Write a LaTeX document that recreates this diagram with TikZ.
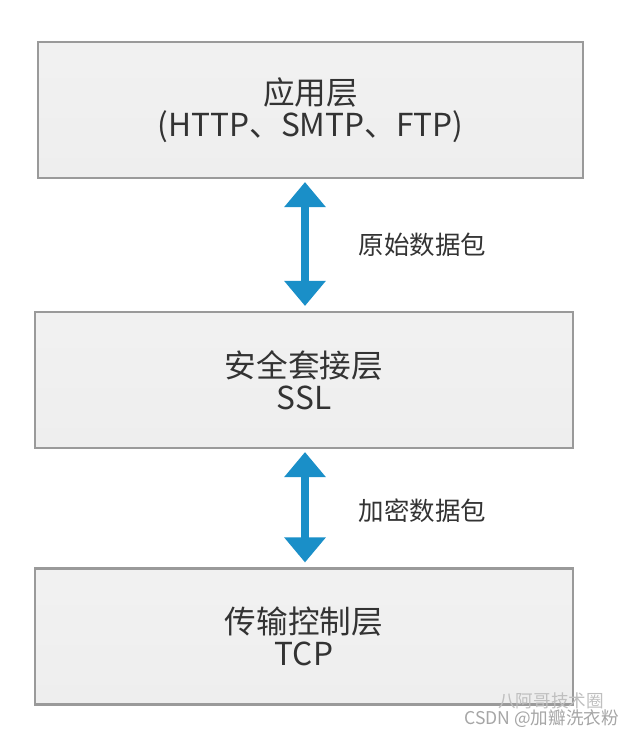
\documentclass[tikz,border=0pt]{standalone}
\usepackage{fontspec}
\setmainfont{Noto Sans CJK SC}
\usepackage{xcolor}
\usepackage{tikz}
\usetikzlibrary{arrows.meta}
\usetikzlibrary{positioning}
\definecolor{layerfill}{HTML}{EEEEEE}
\definecolor{layerline}{HTML}{9A9A9A}
\definecolor{layertext}{HTML}{333333}
\definecolor{pktblue}{HTML}{1A8FC8}
\tikzset{
    layer/.style={draw=layerline, line width=1.2pt, top color=layerfill!80!white, bottom color=layerfill,
        minimum height=2.72cm, align=center, text=layertext, font=\fontsize{18}{18.5}\selectfont},
    pktarrow/.style={draw=pktblue, line width=0.17cm, {Triangle[width=0.8cm,length=0.5cm]}-{Triangle[width=0.8cm,length=0.5cm]}, shorten <=0.1cm, shorten >=0.06cm},
    pktlabel/.style={anchor=west, text=layertext, font=\fontsize{14.5}{16}\selectfont},
    wmark/.style={text=gray!70, font=\fontsize{10}{12}\selectfont}
}

\begin{document}
\begin{tikzpicture}
        \useasboundingbox[fill=white] (0,0) rectangle (12.72,-14.72);
        % three layers
        \node[layer, minimum width=10.9cm] (app) at (6.21,-2.2) {应用层\\(HTTP、SMTP、FTP)};
        \node[layer, minimum width=10.76cm] (ssl) at (6.08,-7.6) {安全套接层\\SSL};
        \node[layer, minimum width=10.76cm] (tcp) at (6.08,-12.73) {传输控制层\\TCP};
        % packets between layers
        \draw[pktarrow] (ssl.north -| 6.1,0) -- (app.south -| 6.1,0);
        \draw[pktarrow] (tcp.north -| 6.1,0) -- (ssl.south -| 6.1,0);
        \node[pktlabel] (raw) at (7.05,-4.9) {原始数据包};
        \node[pktlabel] (enc) at (7.05,-10.22) {加密数据包};
        % watermark
        \node[wmark, anchor=east] (csdn) at (12.5,-14.38) {CSDN @加瓣洗衣粉};
        \node[wmark, anchor=east, text=gray!50] (wx) at (12.2,-14.02) {八阿哥技术圈};
    \end{tikzpicture}
\end{document}
